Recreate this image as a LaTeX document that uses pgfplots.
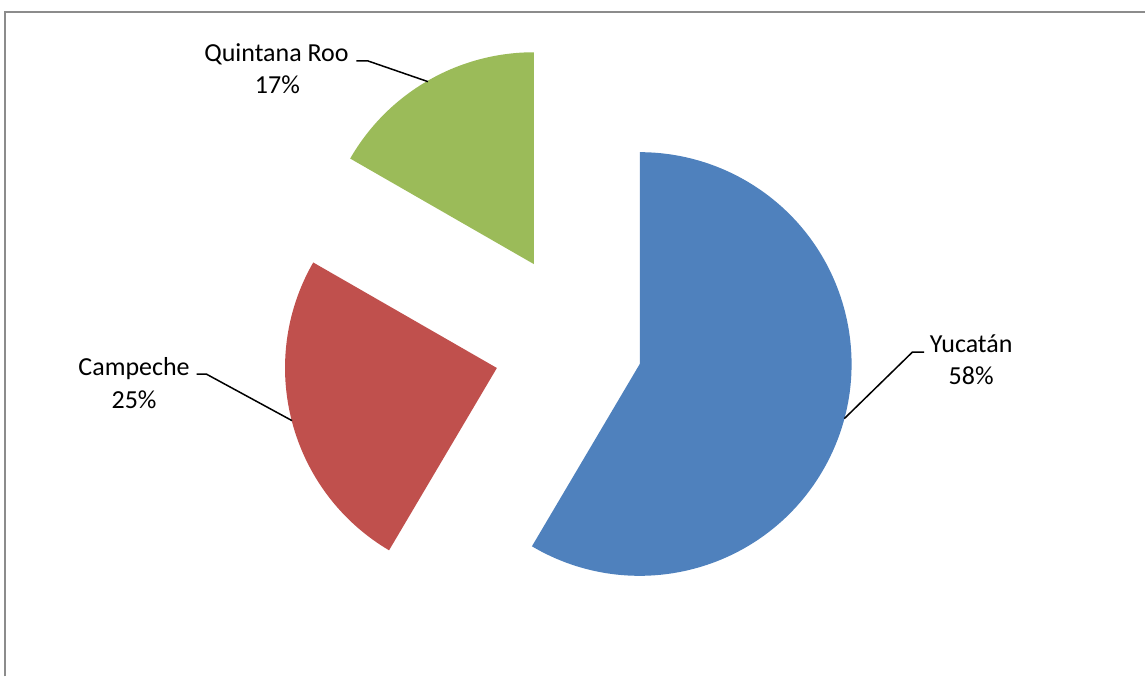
\documentclass[border=0pt]{standalone}
\usepackage{pgfplots}
\usepackage{pgfplotstable}
\pgfplotsset{compat=1.18}
\usepackage{fontspec}
\setmainfont{Carlito}
\definecolor{cY}{HTML}{4F81BD}
\definecolor{cC}{HTML}{C0504D}
\definecolor{cQ}{HTML}{9BBB59}
\definecolor{frame}{HTML}{8C8C8C}
\pgfplotstableread{
name value
Yucatan 58.5
Campeche 24.8
QuintanaRoo 16.7
}\piedata
\begin{document}
\begin{tikzpicture}
\pgfplotstablegetelem{0}{value}\of\piedata \let\vY\pgfplotsretval
\pgfplotstablegetelem{1}{value}\of\piedata \let\vC\pgfplotsretval
\pgfplotstablegetelem{2}{value}\of\piedata \let\vQ\pgfplotsretval
\pgfmathsetmacro{\aQ}{90+3.6*\vQ}
\pgfmathsetmacro{\aC}{\aQ+3.6*\vC}
\def\R{212pt}
\begin{axis}[width=1146pt, height=677pt, scale only axis,
  xmin=0, xmax=1146, ymin=0, ymax=677, y dir=reverse,
  hide axis, clip=false]
\path (axis cs:0,0) rectangle (axis cs:1146,677);
% frame
\draw[frame, line width=2pt] (axis cs:5.5,677) -- (axis cs:5.5,11.6) -- (axis cs:1146,11.6);
% slices
\fill[cQ] (axis cs:534.3,264.3) -- ++(canvas polar cs:angle=90,radius=\R)
  arc[start angle=90, end angle=\aQ, radius=\R] -- cycle;
\fill[cC] (axis cs:497.3,368.3) -- ++(canvas polar cs:angle=\aQ,radius=\R)
  arc[start angle=\aQ, end angle=\aC, radius=\R] -- cycle;
\fill[cY] (axis cs:640.3,364.3) -- ++(canvas polar cs:angle=\aC,radius=\R)
  arc[start angle=\aC, end angle=450, radius=\R] -- cycle;
% leader lines
\draw[black, line width=1.5pt] (axis cs:356.7,61) -- (axis cs:368.3,61) -- (axis cs:428.3,81.7);
\draw[black, line width=1.5pt] (axis cs:196.7,374.5) -- (axis cs:206.7,374.5) -- (axis cs:292.3,421);
\draw[black, line width=1.5pt] (axis cs:925,352.3) -- (axis cs:913.3,352.3) -- (axis cs:845,419);
% labels
\begin{scope}[every node/.style={font=\fontsize{26}{31}\selectfont, inner sep=0pt, anchor=base}]
\node at (axis cs:276.7,61.7) {Quintana Roo};
\node at (axis cs:277.6,93.3) {17\%};
\node at (axis cs:134.2,375.7) {Campeche};
\node at (axis cs:134.2,409) {25\%};
\node at (axis cs:972,352.3) {Yucatán};
\node at (axis cs:972,385) {58\%};
\end{scope}
\end{axis}
\end{tikzpicture}
\end{document}
